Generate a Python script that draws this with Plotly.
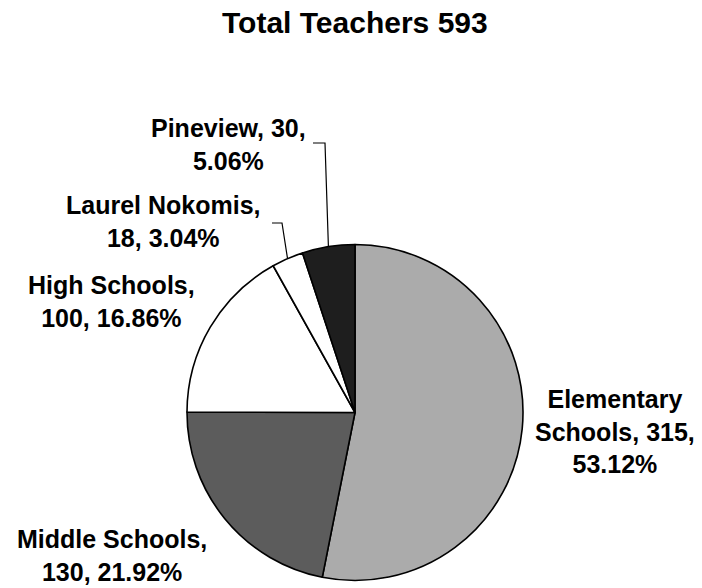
import math
import plotly.graph_objects as go

W, H = 702, 588

categories = ["Elementary Schools", "Middle Schools", "High Schools", "Laurel Nokomis", "Pineview"]
teachers = [315, 130, 100, 18, 30]
percents = ["53.12%", "21.92%", "16.86%", "3.04%", "5.06%"]
label_text = [
    "Elementary<br>Schools, 315,<br>53.12%",
    "Middle Schools,<br>130, 21.92%",
    "High Schools,<br>100, 16.86%",
    "Laurel Nokomis,<br>18, 3.04%",
    "Pineview, 30,<br>5.06%",
]
colors = ["#ababab", "#5c5c5c", "#ffffff", "#ffffff", "#1e1e1e"]
title_text = "Total Teachers 593"

# layout (pixels)
cx, cy, r = 355, 412.5, 168
label_pos = [(615, 431), (112, 555), (111, 301), (163, 222), (228, 144)]

def px(x):
    return x / W

def py(y):
    return 1 - y / H

fig = go.Figure(go.Pie(
    labels=categories,
    values=teachers,
    sort=False,
    direction="clockwise",
    rotation=0,
    textinfo="none",
    hoverinfo="label+value+percent",
    marker=dict(colors=colors, line=dict(color="#000000", width=1.6)),
    domain=dict(x=[px(cx - r), px(cx + r)], y=[py(cy + r), py(cy - r)]),
    showlegend=False,
))

font = dict(family="Liberation Sans, Arial, sans-serif", size=25, color="#000000")
annotations = []
for txt, (x, y) in zip(label_text, label_pos):
    annotations.append(dict(text="<b>" + txt + "</b>", x=px(x), y=py(y), xref="paper", yref="paper",
                            xanchor="center", yanchor="middle", showarrow=False, align="center", font=font))
annotations.append(dict(text="<b>" + title_text + "</b>", x=px(355), y=py(22), xref="paper", yref="paper",
                        xanchor="center", yanchor="middle", showarrow=False,
                        font=dict(family="Liberation Sans, Arial, sans-serif", size=30, color="#000000")))

# leader lines for the two small slices, ending at slice mid-angle on the rim
total = sum(teachers)
cum = 0
mids = []
for v in teachers:
    mids.append((cum + v / 2) / total * 2 * math.pi)
    cum += v
elbows = {3: [(282, 223), (272, 223)], 4: [(325, 143), (313, 143)]}
shapes = []
for i, pts in elbows.items():
    a = mids[i]
    ex = cx + r * math.sin(a)
    ey = cy - r * math.cos(a)
    path_pts = [(ex, ey)] + pts
    d = "M " + " L ".join(f"{px(x):.5f},{py(y):.5f}" for x, y in path_pts)
    shapes.append(dict(type="path", path=d, xref="paper", yref="paper",
                       line=dict(color="#000000", width=1.2)))

fig.update_layout(
    width=W, height=H,
    margin=dict(l=0, r=0, t=0, b=0),
    paper_bgcolor="#ffffff",
    plot_bgcolor="#ffffff",
    annotations=annotations,
    shapes=shapes,
)

fig.write_html("out.html", config={"displayModeBar": False},
               post_script="document.body.style.margin='0';document.body.style.overflow='hidden';")
